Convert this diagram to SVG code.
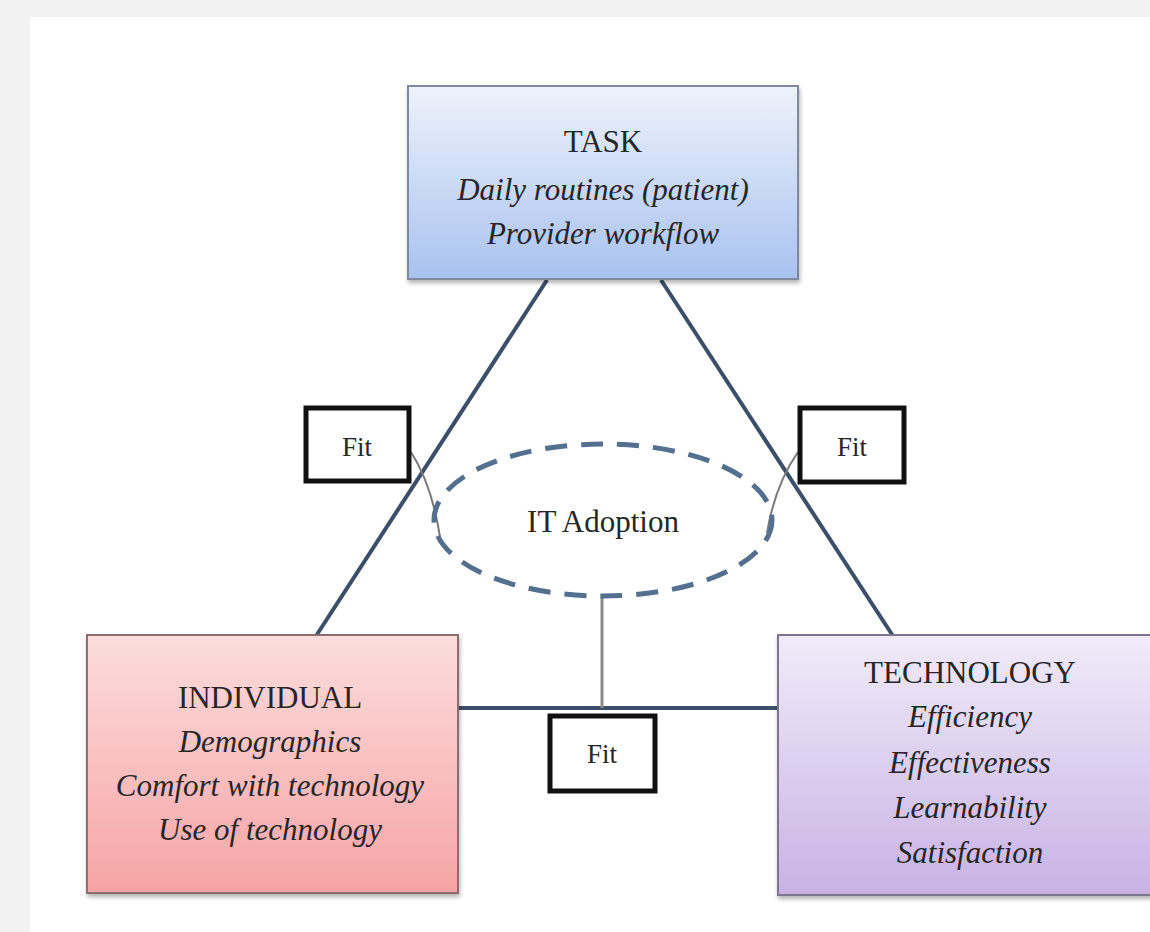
<svg xmlns="http://www.w3.org/2000/svg" width="1150" height="932" viewBox="0 0 1150 932">
<defs>
<linearGradient id="gTask" x1="0" y1="0" x2="0" y2="1"><stop offset="0" stop-color="#eef2fb"/><stop offset="1" stop-color="#a8c2ef"/></linearGradient>
<linearGradient id="gInd" x1="0" y1="0" x2="0" y2="1"><stop offset="0" stop-color="#fcdcdc"/><stop offset="1" stop-color="#f6a4a5"/></linearGradient>
<linearGradient id="gTech" x1="0" y1="0" x2="0" y2="1"><stop offset="0" stop-color="#f1ebf9"/><stop offset="1" stop-color="#c8b2e5"/></linearGradient>
<filter id="sh" x="-10%" y="-10%" width="120%" height="125%"><feDropShadow dx="1" dy="3" stdDeviation="2" flood-color="#000" flood-opacity="0.3"/></filter>
</defs>
<style>
.t{font-family:"Liberation Serif","Times New Roman",serif;fill:#262626;text-anchor:middle}
.h{font-size:31px}
.i{font-size:31px;font-style:italic}
.f{font-size:27px}
.tri{stroke:#3b4f68;stroke-width:4;fill:none}
.fit{fill:#fff;stroke:#111;stroke-width:5}
.thin{stroke:#7a7a7a;stroke-width:2;fill:none}
</style>
<rect width="1150" height="932" fill="#f2f2f2"/>
<rect x="30" y="17" width="1120" height="915" fill="#fff"/>
<g id="connectors">
<line class="tri" x1="547" y1="280" x2="316" y2="636"/>
<line class="tri" x1="661" y1="280" x2="893" y2="636"/>
<line class="tri" x1="458" y1="708" x2="778" y2="708"/>
<line x1="602" y1="597" x2="602" y2="708" stroke="#8a8a8a" stroke-width="3"/>
<path class="thin" d="M411,452 Q432,485 440,537"/>
<path class="thin" d="M798,452 Q775,485 767,533"/>
</g>
<g id="task">
<rect x="408" y="86" width="390" height="193" fill="url(#gTask)" stroke="#7d8aa0" stroke-width="2" filter="url(#sh)"/>
<text class="t h" x="603" y="152">TASK</text>
<text class="t i" x="603" y="200">Daily routines (patient)</text>
<text class="t i" x="603" y="244">Provider workflow</text>
</g>
<g id="individual">
<rect x="87" y="635" width="371" height="258" fill="url(#gInd)" stroke="#8d6e70" stroke-width="2" filter="url(#sh)"/>
<text class="t h" x="270" y="708">INDIVIDUAL</text>
<text class="t i" x="270" y="752">Demographics</text>
<text class="t i" x="270" y="796">Comfort with technology</text>
<text class="t i" x="270" y="840">Use of technology</text>
</g>
<g id="technology">
<rect x="778" y="635" width="390" height="260" fill="url(#gTech)" stroke="#7f7490" stroke-width="2" filter="url(#sh)"/>
<text class="t h" x="970" y="683">TECHNOLOGY</text>
<text class="t i" x="970" y="727">Efficiency</text>
<text class="t i" x="970" y="773">Effectiveness</text>
<text class="t i" x="970" y="818">Learnability</text>
<text class="t i" x="970" y="863">Satisfaction</text>
</g>
<g id="it-adoption">
<ellipse cx="603" cy="520" rx="169" ry="76" fill="none" stroke="#53708f" stroke-width="5" stroke-dasharray="22 14"/>
<text class="t h" x="603" y="532" font-size="30">IT Adoption</text>
</g>
<g id="fit-left">
<rect class="fit" x="306" y="408" width="103" height="73"/>
<text class="t f" x="357" y="456">Fit</text>
</g>
<g id="fit-right">
<rect class="fit" x="800" y="408" width="104" height="74"/>
<text class="t f" x="852" y="456">Fit</text>
</g>
<g id="fit-bottom">
<rect class="fit" x="550" y="716" width="105" height="75"/>
<text class="t f" x="602" y="763">Fit</text>
</g>
</svg>
